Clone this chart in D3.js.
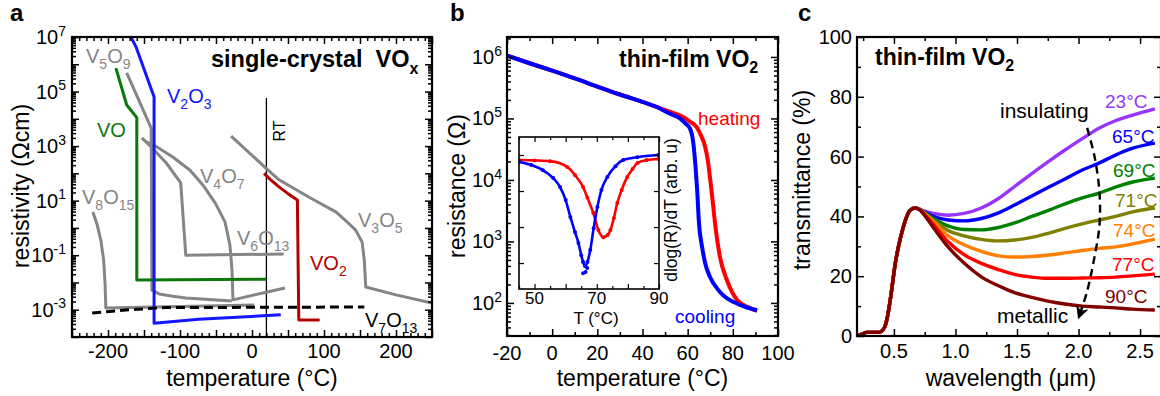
<!DOCTYPE html>
<html>
<head>
<meta charset="utf-8">
<script src="https://cdn.jsdelivr.net/npm/d3@7/dist/d3.min.js"></script>
<style>
  html, body { margin: 0; padding: 0; background: #fff; }
  svg { display: block; font-family: "Liberation Sans", Arial, Helvetica, sans-serif; }
</style>
</head>
<body>
<svg id="fig" width="1160" height="396" viewBox="0 0 1160 396"></svg>
<script>
// ---------- (a) single-crystal VOx : [temperature °C, resistivity Ω·cm] ----------
const v2o3  = [[-169,1.1e7],[-161,4.3e6],[-136,6.3e4],[-136,3.2e-4],[-74,4.5e-4],[40,6.5e-4]];
const vo    = [[-189,7.2e5],[-174,3.2e4],[-160,1.1e4],[-160,1.23e-2],[20,1.32e-2]];
const v5o9  = [[-174,4.8e5],[-140,4.6e3],[-139,5.2e-3],[-129,3.8e-3],[-110,3.1e-3],[-92,2.7e-3],[-28,2.1e-3]];
const v4o7  = [[-146,1.4e3],[-132,9.3e2],[-110,4.0e2],[-86,1.3e2],[-68,37],[-51,8.1],[-37.5,1.66],[-30.6,0.23],[-27.8,0.029],[-26.4,2.3e-3],[45.8,6.3e-3]];
const v6o13 = [[-153,2.0e3],[-140,9.3e2],[-119,2.4e2],[-99,45],[-92,0.10],[44,0.11]];
const v8o15 = [[-221,3.8],[-215,1.3],[-210,0.36],[-206,0.066],[-204,8e-3],[-203,1.15e-3],[3,1.5e-3]];
const v3o5  = [[-29,2.3e3],[19,160],[37.5,58],[80,13],[117,3.8],[135,1.4],[144,0.83],[153,0.30],[156,0.063],[158,6.8e-3],[200,3.5e-3],[250,1.75e-3]];
const vo2   = [[16.7,100],[26,58],[37.5,32],[50,18],[63,10.5],[65,4.2e-4],[94,4.2e-4]];
const v7o13 = [[-222,7.6e-4],[-170,1.0e-3],[-120,1.2e-3],[156,1.26e-3]];
const roomTemp = 20;
const aXLabels = [-200,-100,0,100,200];
const aYExp = [7,5,3,1,-1,-3];

// ---------- (b) thin-film VO2 : [temperature °C, resistance Ω] ----------
const heating = [[-20,1.05e6],[-10,7.9e5],[0,6.0e5],[10,4.5e5],[20,3.3e5],[30,2.45e5],[40,1.86e5],[46,1.55e5],[52,1.29e5],[57,1.1e5],[61,8.9e4],[64,7.2e4],[66,5.2e4],[67.7,3.5e4],[69,2.0e4],[70,1.0e4],[70.8,5.6e3],[72.1,2.0e3],[74.3,560],[77.4,234],[81.9,112],[87.6,83],[90.7,74]];
const cooling = [[-20,1.05e6],[-10,7.9e5],[0,6.0e5],[10,4.5e5],[20,3.3e5],[30,2.45e5],[40,1.86e5],[46,1.55e5],[52,1.2e5],[56.6,1.0e5],[59,8.3e4],[61,6.9e4],[62.5,4.0e4],[63.5,1.6e4],[64.2,6.9e3],[65,2.0e3],[66.4,810],[67.7,450],[69.9,263],[74.3,151],[83.2,93],[90.7,76]];
const bXLabels = [-20,0,20,40,60,80,100];
const bYExp = [2,3,4,5,6];

// inset: [temperature °C, dlog(R)/dT in arbitrary units]
const dHeating = [[45,3.86],[50,3.85],[55,3.83],[60.5,3.67],[63,3.44],[65.6,3.11],[67,2.81],[68.9,2.39],[70.5,1.92],[72.1,1.72],[73.5,1.78],[74.4,1.92],[75.5,2.25],[76.6,2.67],[78,3.03],[79.8,3.39],[81.5,3.61],[83.1,3.78],[86,3.86],[89.8,3.89]];
const dCooling = [[45,3.81],[49,3.72],[52.7,3.58],[56,3.36],[58.2,3.11],[60,2.75],[61.5,2.28],[63,1.86],[64.1,1.56],[65,1.22],[65.6,1.03],[66.2,0.92],[67,1.03],[67.9,1.36],[69,1.97],[70.2,2.56],[71.5,3.03],[73.4,3.39],[76,3.69],[78.5,3.86],[83,3.94],[89.8,4.0]];
const dCoolingScatter = [[65.6,0.72],[66.4,0.75],[66.9,0.86]];
const insetXLabels = [50,70,90];

// ---------- (c) thin-film VO2 : transmittance (%) vs wavelength (µm) ----------
const onsetLam = [0.20,0.24,0.28,0.33,0.38,0.41,0.43,0.45,0.47,0.49,0.51,0.54,0.57,0.60,0.63,0.67,0.70];
const onsetTr  = [0,0.6,1.2,1.2,1.2,2.0,3.5,7,12,18,24,30.5,35.5,39.5,42,42.8,42.5];
const tailLam  = [0.73,0.82,0.94,1.07,1.21,1.35,1.48,1.62,1.76,1.89,2.03,2.17,2.30,2.44,2.62];
const tr23 = [42.0,41.0,40.4,41.0,42.8,46.0,50.0,54.3,58.5,62.2,66.0,69.6,72.0,73.9,76.0];
const tr65 = [41.9,40.0,38.8,38.5,39.3,41.2,43.8,46.8,49.8,52.5,55.5,57.9,60.5,62.8,64.5];
const tr69 = [41.8,39.3,36.8,35.6,35.5,36.3,37.8,40.0,42.1,44.2,46.2,47.8,49.8,51.5,52.8];
const tr71 = [41.7,38.8,35.3,33.5,32.3,31.8,32.1,33.0,34.4,36.0,37.5,38.8,40.0,41.5,42.8];
const tr74 = [41.6,38.3,33.5,30.5,28.3,26.8,26.4,26.6,27.1,27.8,28.6,29.3,29.8,30.8,32.4];
const tr77 = [41.5,37.3,31.5,27.2,24.3,22.2,20.6,19.7,19.3,19.3,19.4,19.5,19.7,20.1,20.7];
const tr90 = [41.3,36.3,29.8,24.4,19.8,16.8,14.5,12.9,11.6,10.7,10.0,9.7,9.4,9.0,8.7];
const tempNames = ['23°C','65°C','69°C','71°C','74°C','77°C','90°C'];
const tempColors = ['#9933ff','#0000ff','#008000','#808000','#ff8000','#ff0000','#800000'];
const trendArrow = [[2.07,69.6],[2.13,60],[2.17,48],[2.17,37],[2.13,26.5],[2.07,15],[2.0,6]];
const cXLabels = [0.5,1.0,1.5,2.0,2.5];
const cYLabels = [0,20,40,60,80,100];

// ================= drawing helpers =================
const svg = d3.select('#fig');
const defs = svg.append('defs');

function rich(sel, parts, fs) {
  let shift = 0;
  parts.forEach(p => {
    const k = p[1];
    const target = k === 'sub' ? 0.28 * fs : k === 'sup' ? -0.42 * fs : 0;
    const ts = sel.append('tspan').text(p[0]);
    if (target !== shift) ts.attr('dy', target - shift);
    if (k) ts.attr('font-size', Math.round(fs * 0.7));
    shift = target;
  });
  return sel;
}

function label(g, x, y, parts, o = {}) {
  const fs = o.fs || 20;
  const t = g.append('text').attr('x', x).attr('y', y)
    .attr('font-size', fs).attr('fill', o.color || '#000');
  if (o.anchor) t.attr('text-anchor', o.anchor);
  if (o.weight) t.attr('font-weight', o.weight);
  if (o.rotate) t.attr('transform', `rotate(-90,${x},${y})`);
  rich(t, typeof parts === 'string' ? [[parts]] : parts, fs);
  return t;
}

function clipRect(id, x, y) {
  const [l, r] = x.range(), [b, t] = y.range();
  defs.append('clipPath').attr('id', id).append('rect')
    .attr('x', l).attr('y', t).attr('width', r - l).attr('height', b - t);
}

// inward ticks on all four sides plus a closed frame
function framedAxes(g, x, y, s) {
  const [xl, xr] = x.range(), [yb, yt] = y.range();
  const draw = (axis, tr, vals, len) => {
    if (!vals || !vals.length) return;
    const a = g.append('g').attr('transform', tr)
      .call(axis.tickValues(vals).tickSize(-len).tickFormat(''));
    a.select('.domain').remove();
    a.selectAll('text').remove();
    a.selectAll('line').attr('stroke', '#000').attr('stroke-width', s.tw || 1.5);
  };
  [[s.xMajor, s.major], [s.xMinor, s.minor]].forEach(([v, l]) => {
    draw(d3.axisBottom(x), `translate(0,${yb})`, v, l);
    draw(d3.axisTop(x), `translate(0,${yt})`, v, l);
  });
  [[s.yMajor, s.major], [s.yMinor, s.minor]].forEach(([v, l]) => {
    draw(d3.axisLeft(y), `translate(${xl},0)`, v, l);
    draw(d3.axisRight(y), `translate(${xr},0)`, v, l);
  });
  g.append('rect').attr('x', xl).attr('y', yt).attr('width', xr - xl).attr('height', yb - yt)
    .attr('fill', 'none').attr('stroke', '#000').attr('stroke-width', s.fw || 2.2);
}

function logMinor(lo, hi, dom) {
  const out = [];
  for (let e = lo; e < hi; e++) for (let k = 2; k <= 9; k++) out.push(k * Math.pow(10, e));
  return out.filter(v => v >= dom[0] && v <= dom[1]);
}
const decades = (lo, hi) => d3.range(lo, hi + 1).map(e => Math.pow(10, e));
const notIn = (arr, major) => arr.filter(v => !major.some(m => Math.abs(m - v) < 1e-9));

function path(g, data, line, color, w, dash) {
  const p = g.append('path').datum(data).attr('d', line)
    .attr('fill', 'none').attr('stroke', color).attr('stroke-width', w)
    .attr('stroke-linejoin', 'round').attr('stroke-linecap', 'butt');
  if (dash) p.attr('stroke-dasharray', dash);
  return p;
}

const GRAY = '#858585';

// ================= panel (a) =================
const ax = d3.scaleLinear().domain([-250, 250]).range([72, 432]);
const ay = d3.scaleLog().domain([1e-4, 1e7]).range([337, 37]);
const ga = svg.append('g');
clipRect('clipA', ax, ay);
const pa = ga.append('g').attr('clip-path', 'url(#clipA)');
const la = d3.line().x(d => ax(d[0])).y(d => ay(d[1]));

pa.append('line').attr('x1', ax(roomTemp)).attr('x2', ax(roomTemp))
  .attr('y1', ay(5.8e4)).attr('y2', ay(1e-4)).attr('stroke', '#000').attr('stroke-width', 1.3);

[v8o15, v5o9, v6o13, v4o7, v3o5].forEach(d => path(pa, d, la, GRAY, 3));
path(pa, vo, la, '#0a780a', 3);
path(pa, v2o3, la, '#1515ff', 3);
path(pa, vo2, la, '#b40000', 3);
path(pa, v7o13, la, '#000', 3, '9,5');

const aXMajor = d3.range(-250, 251, 50), aXMinor = notIn(d3.range(-250, 251, 10), aXMajor);
framedAxes(ga, ax, ay, {
  xMajor: aXMajor, xMinor: aXMinor, yMajor: decades(-4, 7), yMinor: logMinor(-4, 7, ay.domain()),
  major: 7, minor: 4
});
aXLabels.forEach(v => label(ga, ax(v), 358, String(v), { anchor: 'middle' }));
aYExp.forEach(e => label(ga, 66, ay(Math.pow(10, e)) + 7, [['10'], [String(e), 'sup']], { anchor: 'end' }));
label(ga, ax(0), 386, 'temperature (°C)', { anchor: 'middle', fs: 23 });
label(ga, 29, 186, 'resistivity (Ωcm)', { anchor: 'middle', fs: 23, rotate: true });
label(ga, 10, 21, 'a', { fs: 24, weight: 'bold' });
label(ga, 211, 67, [['single-crystal\u00a0\u00a0VO'], ['x', 'sub']], { fs: 23.5, weight: 'bold' });
label(ga, 285, 131, 'RT', { anchor: 'middle', fs: 16, rotate: true });

const sub = (a, b, c, d) => [[a], [b, 'sub'], [c], [d, 'sub']];
label(ga, 86, 63, sub('V', '5', 'O', '9'), { color: GRAY });
label(ga, 167, 103, sub('V', '2', 'O', '3'), { color: '#1515ff' });
label(ga, 97, 137, 'VO', { color: '#0a780a' });
label(ga, 200, 183, sub('V', '4', 'O', '7'), { color: GRAY });
label(ga, 82, 204, sub('V', '8', 'O', '15'), { color: GRAY });
label(ga, 237, 245, sub('V', '6', 'O', '13'), { color: GRAY });
label(ga, 358, 227, sub('V', '3', 'O', '5'), { color: GRAY });
label(ga, 310, 270, [['VO'], ['2', 'sub']], { color: '#b40000' });
label(ga, 365, 327, sub('V', '7', 'O', '13'), { color: '#000' });

// ================= panel (b) =================
const bx = d3.scaleLinear().domain([-20, 100]).range([507, 778]);
const by = d3.scaleLog().domain([29, 2.11e6]).range([336, 37]);
const gb = svg.append('g');
clipRect('clipB', bx, by);
const pb = gb.append('g').attr('clip-path', 'url(#clipB)');
const lb = d3.line().x(d => bx(d[0])).y(d => by(d[1])).curve(d3.curveMonotoneX);
path(pb, heating, lb, '#ff0000', 4);
path(pb, cooling, lb, '#0000ff', 4);

const bXMajor = d3.range(-20, 101, 20), bXMinor = notIn(d3.range(-20, 101, 10), bXMajor);
framedAxes(gb, bx, by, {
  xMajor: bXMajor, xMinor: bXMinor, yMajor: decades(2, 6), yMinor: logMinor(1, 7, by.domain()),
  major: 7, minor: 4
});
bXLabels.forEach(v => label(gb, bx(v), 360, String(v), { anchor: 'middle' }));
bYExp.forEach(e => label(gb, 502, by(Math.pow(10, e)) + 7, [['10'], [String(e), 'sup']], { anchor: 'end' }));
label(gb, bx(40), 386, 'temperature (°C)', { anchor: 'middle', fs: 23 });
label(gb, 465, 186, 'resistance (Ω)', { anchor: 'middle', fs: 23, rotate: true });
label(gb, 450, 21, 'b', { fs: 24, weight: 'bold' });
label(gb, 619, 67, [['thin-film VO'], ['2', 'sub']], { fs: 23, weight: 'bold' });
label(gb, 698, 125, 'heating', { fs: 19, color: '#ff0000' });
label(gb, 675, 323, 'cooling', { fs: 19, color: '#0000ff' });

// inset
const ix = d3.scaleLinear().domain([45, 90]).range([519, 659]);
const iy = d3.scaleLinear().domain([0.28, 4.5]).range([289, 137]);
const gi = svg.append('g');
gi.append('rect').attr('x', 519).attr('y', 137).attr('width', 140).attr('height', 152).attr('fill', '#fff');
clipRect('clipI', ix, iy);
const pi = gi.append('g').attr('clip-path', 'url(#clipI)');
const li = d3.line().x(d => ix(d[0])).y(d => iy(d[1])).curve(d3.curveMonotoneX);
[[dHeating, '#ff0000'], [dCooling, '#0000ff']].forEach(([d, c]) => {
  path(pi, d, li, c, 2.6);
  pi.selectAll(null).data(d).enter().append('circle')
    .attr('cx', p => ix(p[0])).attr('cy', p => iy(p[1])).attr('r', 2).attr('fill', c);
});
pi.selectAll(null).data(dCoolingScatter).enter().append('circle')
  .attr('cx', p => ix(p[0])).attr('cy', p => iy(p[1])).attr('r', 2).attr('fill', '#0000ff');
const iXMajor = d3.range(50, 91, 10), iXMinor = notIn(d3.range(45, 91, 5), iXMajor);
framedAxes(gi, ix, iy, { xMajor: iXMajor, xMinor: iXMinor, yMajor: [1, 2, 3, 4], major: 5, minor: 3, fw: 1.6, tw: 1.2 });
insetXLabels.forEach(v => label(gi, ix(v), 304, String(v), { anchor: 'middle', fs: 17 }));
label(gi, 596, 324, 'T (°C)', { anchor: 'middle', fs: 17 });
label(gi, 677, 210, 'dlog(R)/dT (arb. u)', { anchor: 'middle', fs: 17.5, rotate: true });

// ================= panel (c) =================
const cx = d3.scaleLinear().domain([0.2, 2.67]).range([857, 1161]);
const cy = d3.scaleLinear().domain([0, 100]).range([336, 37]);
const gc = svg.append('g');
clipRect('clipC', cx, cy);
const pc = gc.append('g').attr('clip-path', 'url(#clipC)');
const lc = d3.line().x(d => cx(d[0])).y(d => cy(d[1])).curve(d3.curveMonotoneX);
const onset = onsetLam.map((l, i) => [l, onsetTr[i]]);
[tr23, tr65, tr69, tr71, tr74, tr77, tr90].forEach((vals, k) => {
  const series = onset.concat(tailLam.map((l, i) => [l, vals[i]]));
  path(pc, series, lc, tempColors[k], 3.4);
});

defs.append('marker').attr('id', 'arrowHead')
  .attr('viewBox', '0 0 10 10').attr('refX', 9).attr('refY', 5)
  .attr('markerWidth', 16).attr('markerHeight', 13).attr('markerUnits', 'userSpaceOnUse')
  .attr('orient', 'auto')
  .append('path').attr('d', 'M0,0 L10,5 L0,10 L3,5 Z').attr('fill', '#000');
path(gc, trendArrow, d3.line().x(d => cx(d[0])).y(d => cy(d[1])).curve(d3.curveCatmullRom), '#000', 2.4, '8,5')
  .attr('marker-end', 'url(#arrowHead)');

const cXMajor = [0.5, 1.0, 1.5, 2.0, 2.5], cXMinor = [0.25, 0.75, 1.25, 1.75, 2.25];
framedAxes(gc, cx, cy, {
  xMajor: cXMajor, xMinor: cXMinor, yMajor: d3.range(0, 101, 20), yMinor: d3.range(10, 100, 20),
  major: 7, minor: 4
});
cXLabels.forEach(v => label(gc, cx(v), 358, v.toFixed(1), { anchor: 'middle' }));
cYLabels.forEach(v => label(gc, 852, cy(v) + 7, String(v), { anchor: 'end' }));
label(gc, 1011, 386, 'wavelength (μm)', { anchor: 'middle', fs: 23 });
label(gc, 810, 180, 'transmittance (%)', { anchor: 'middle', fs: 23, rotate: true });
label(gc, 798, 21, 'c', { fs: 24, weight: 'bold' });
label(gc, 875, 65, [['thin-film VO'], ['2', 'sub']], { fs: 23, weight: 'bold' });
label(gc, 1000, 118, 'insulating', { fs: 21 });
label(gc, 997, 323, 'metallic', { fs: 21 });
const tempBaselines = [108, 143, 177, 207, 237, 271, 303];
const tempStarts = [1105, 1112, 1113, 1115, 1113, 1112, 1105];
tempNames.forEach((n, k) => label(gc, tempStarts[k], tempBaselines[k], n, { fs: 19, color: tempColors[k] }));
</script>
</body>
</html>
